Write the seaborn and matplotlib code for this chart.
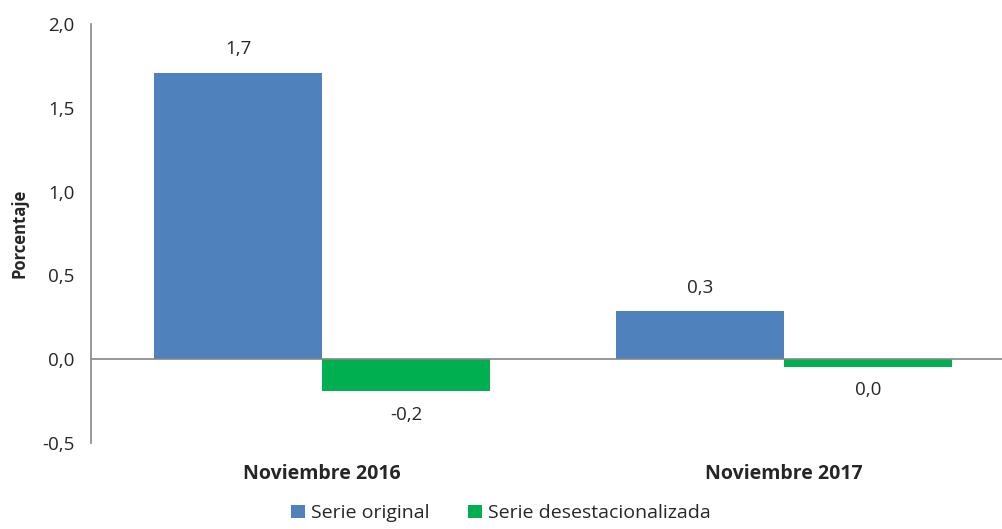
import pandas as pd
import matplotlib.pyplot as plt
import seaborn as sns

# datos
periodos = ['Noviembre 2016', 'Noviembre 2017']
serie_original = [1.71, 0.285]
serie_desest = [-0.19, -0.045]
series = ['Serie original', 'Serie desestacionalizada']
colores = ['#4F81BD', '#00B050']

df = pd.DataFrame({
    'periodo': periodos * 2,
    'serie': [series[0]] * 2 + [series[1]] * 2,
    'valor': serie_original + serie_desest,
})

sns.set_theme(style='white')
plt.rcParams['font.family'] = ['Open Sans', 'DejaVu Sans']

fig = plt.figure(figsize=(10.02, 5.29), dpi=100)
ax = fig.add_axes([91 / 1002, 1 - 443 / 529, (1002 - 91) / 1002, (443 - 24) / 529])

sns.barplot(data=df, x='periodo', y='valor', hue='serie', palette=colores,
            width=0.727, saturation=1, ax=ax, legend=True, linewidth=0)

ax.set_xlim(-0.5, 1.472)
ax.set_ylim(-0.5, 2.0)
ax.set_yticks([-0.5, 0, 0.5, 1.0, 1.5, 2.0])
ax.set_yticklabels([f'{v:.1f}'.replace('.', ',') for v in ax.get_yticks()], fontsize=13.5)
ax.tick_params(axis='y', length=0, pad=12)
ax.tick_params(axis='x', length=0, pad=0)

# eje x en cero
ax.axhline(0, color='#868686', lw=1.2, zorder=3)
ax.xaxis.set_ticks_position('none')
for lado in ['top', 'right', 'bottom']:
    ax.spines[lado].set_visible(False)
ax.spines['left'].set_color('#868686')
ax.spines['left'].set_linewidth(1.2)

ax.set_xticks([0, 1])
ax.set_xticklabels(periodos, fontsize=14, fontweight='bold')
for lbl in ax.get_xticklabels():
    lbl.set_y(-0.05)
ax.set_xlabel('')
ax.set_ylabel('Porcentaje', fontsize=12, fontweight='bold', labelpad=10)

# etiquetas de valores
for cont in ax.containers:
    for barra in cont:
        h = barra.get_height()
        x = barra.get_x() + barra.get_width() / 2
        txt = f'{round(h, 1):.1f}'.replace('.', ',')
        if txt == '-0,0':
            txt = '0,0'
        if h >= 0:
            ax.annotate(txt, (x, h), xytext=(0, 17), textcoords='offset points',
                        ha='center', va='center', fontsize=13.5)
        else:
            ax.annotate(txt, (x, h), xytext=(0, -17), textcoords='offset points',
                        ha='center', va='center', fontsize=13.5)

leg = ax.legend(loc='center', bbox_to_anchor=(0.45, -0.168), ncol=2, frameon=False,
                fontsize=14, handlelength=0.7, handleheight=0.7, handletextpad=0.3,
                columnspacing=2.0, borderpad=0)

fig.savefig('out.png', dpi=100)
